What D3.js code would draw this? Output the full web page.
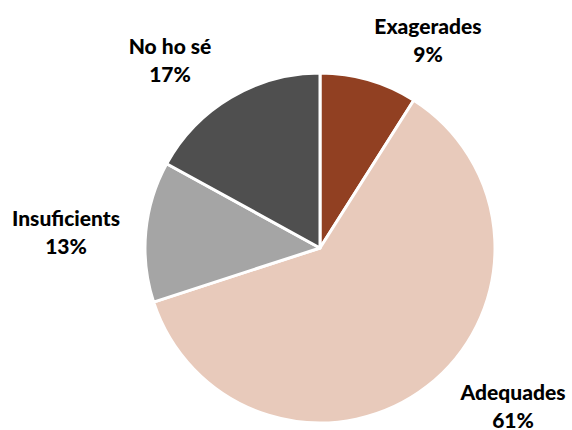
<!DOCTYPE html>
<html><head><meta charset="utf-8">
<script src="https://cdn.jsdelivr.net/npm/d3@7"></script>
<style>body{margin:0;background:#fff}</style>
</head><body>
<svg id="c" width="572" height="430"></svg>
<script>
const categories = ["Exagerades", "Adequades", "Insuficients", "No ho sé"];
const values = [9, 61, 13, 17];
const colors = ["#914022", "#E8CABB", "#A5A5A5", "#4F4F4F"];
const labelPos = [[428, 25], [513, 391], [66, 217], [170, 45]];

const svg = d3.select("#c");
const cx = 320, cy = 248, r = 175;
const g = svg.append("g").attr("transform", `translate(${cx},${cy})`);
const data = categories.map((c, i) => ({cat: c, v: values[i], col: colors[i], lp: labelPos[i]}));
const pie = d3.pie().sort(null).value(d => d.v);
const arc = d3.arc().innerRadius(0).outerRadius(r);
g.selectAll("path").data(pie(data)).join("path")
  .attr("d", arc).attr("fill", d => d.data.col)
  .attr("stroke", "#fff").attr("stroke-width", 3).attr("stroke-linejoin", "round");

const lab = svg.append("g").attr("font-family", "Lato, 'Open Sans', sans-serif")
  .attr("font-weight", 900).attr("font-size", 21).attr("fill", "#000").attr("text-anchor", "middle");
data.forEach(d => {
  const t = lab.append("text").attr("x", d.lp[0]).attr("y", d.lp[1]).attr("dominant-baseline", "central");
  t.append("tspan").attr("x", d.lp[0]).text(d.cat);
  t.append("tspan").attr("x", d.lp[0]).attr("dy", 28).text(d.v + "%");
});
</script>
</body></html>
